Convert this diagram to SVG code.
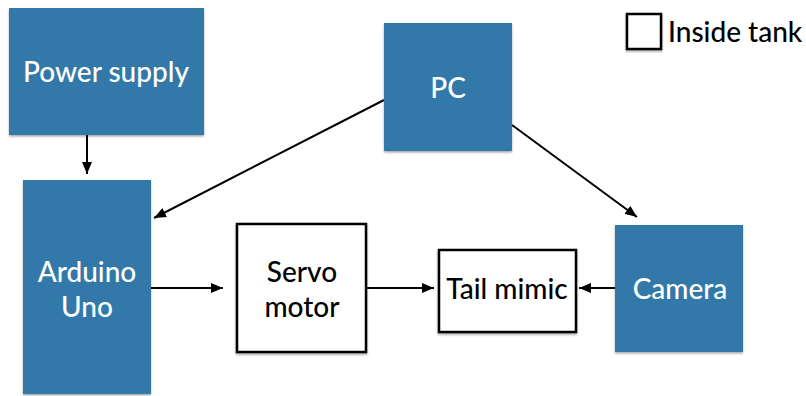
<svg xmlns="http://www.w3.org/2000/svg" width="806" height="396" viewBox="0 0 806 396">
<defs>
<marker id="ah" markerWidth="12" markerHeight="10" refX="12" refY="5" orient="auto" markerUnits="userSpaceOnUse">
<path d="M0,0 L12,5 L0,10 Z" fill="#000"/>
</marker>
<filter id="sh" x="-10%" y="-10%" width="120%" height="120%">
<feDropShadow dx="0" dy="1.5" stdDeviation="1.2" flood-color="#000" flood-opacity="0.35"/>
</filter>
</defs>
<style>
.blue{fill:#3279a9;filter:url(#sh)}
.white{fill:#fff;stroke:#000;stroke-width:2.5;filter:url(#sh)}
.lw{font-family:Lato,"Open Sans",sans-serif;font-size:28px;font-weight:500;fill:#fff;text-anchor:middle}
.lb{font-family:Lato,"Open Sans",sans-serif;font-size:28px;font-weight:500;fill:#000;text-anchor:middle}
.conn{stroke:#000;stroke-width:2;fill:none;marker-end:url(#ah)}
</style>
<rect width="806" height="396" fill="#fff"/>
<g id="connectors">
<line class="conn" x1="87" y1="135" x2="87" y2="174"/>
<line class="conn" x1="384" y1="100" x2="154" y2="218"/>
<line class="conn" x1="512" y1="125" x2="637" y2="217"/>
<line class="conn" x1="151" y1="288" x2="223" y2="288"/>
<line class="conn" x1="366" y1="288" x2="434" y2="288"/>
<line class="conn" x1="615" y1="288" x2="579" y2="288"/>
</g>
<g id="power-supply">
<rect class="blue" x="9" y="8" width="195" height="127"/>
<text class="lw" x="106" y="82">Power supply</text>
</g>
<g id="pc">
<rect class="blue" x="384" y="23" width="128" height="128"/>
<text class="lw" x="448" y="98">PC</text>
</g>
<g id="arduino">
<rect class="blue" x="23" y="180" width="128" height="214"/>
<text class="lw" x="87" y="282">Arduino</text>
<text class="lw" x="87" y="317">Uno</text>
</g>
<g id="servo">
<rect class="white" x="237" y="224" width="129" height="128"/>
<text class="lb" x="302" y="282">Servo</text>
<text class="lb" x="302" y="317">motor</text>
</g>
<g id="tail">
<rect class="white" x="439" y="250" width="137" height="82"/>
<text class="lb" x="507" y="299">Tail mimic</text>
</g>
<g id="camera">
<rect class="blue" x="615" y="225" width="128" height="127"/>
<text class="lw" x="680" y="299">Camera</text>
</g>
<g id="legend">
<rect class="white" x="627" y="14" width="34" height="35"/>
<text class="lb" x="668" y="42" style="text-anchor:start">Inside tank</text>
</g>
</svg>
